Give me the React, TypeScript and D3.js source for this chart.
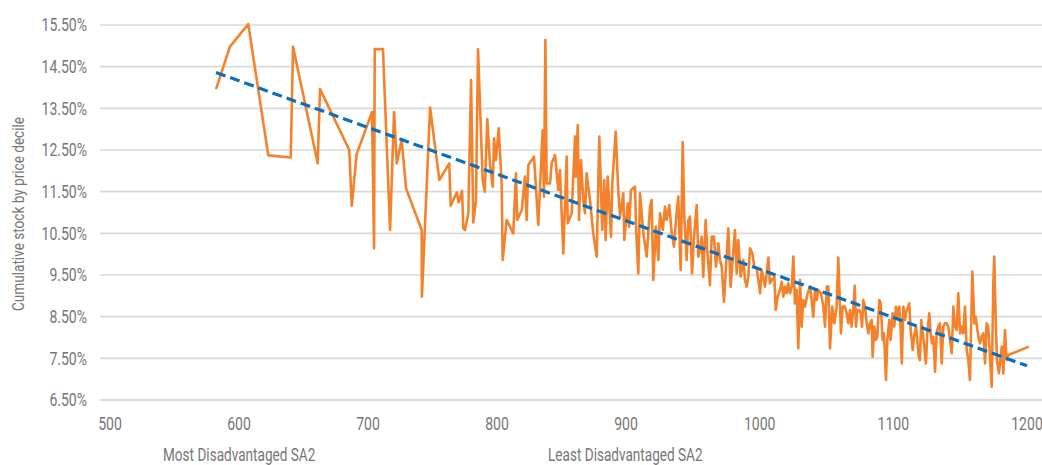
import React from 'react';
import * as d3 from 'd3';

const xTicks = [500, 600, 700, 800, 900, 1000, 1100, 1200];
const yTicks = [6.5, 7.5, 8.5, 9.5, 10.5, 11.5, 12.5, 13.5, 14.5, 15.5];
const yTitle = 'Cumulative stock by price decile';
const leftNote = 'Most Disadvantaged SA2';
const rightNote = 'Least Disadvantaged SA2';

// [SA2 score, cumulative stock share %]
const stockPoints: [number, number][] = [
  [582.2, 13.96], [593.0, 14.98], [607.2, 15.52], [622.7, 12.37], [640.1, 12.32], [641.9, 14.98],
  [661.0, 12.18], [662.8, 13.96], [685.5, 12.50], [687.4, 11.16], [691.2, 12.40], [703.1, 13.41],
  [704.7, 10.14], [705.2, 14.92], [711.6, 14.92], [717.1, 10.58], [720.2, 13.41], [722.3, 12.18],
  [726.1, 12.74], [729.5, 11.58], [741.6, 10.58], [741.8, 8.98], [748.1, 13.52], [755.3, 11.78],
  [763.0, 12.18], [764.1, 11.16], [768.8, 11.48], [770.3, 11.24], [772.9, 11.52], [773.9, 10.62],
  [775.2, 10.58], [777.8, 10.98], [779.9, 14.18], [781.6, 10.76], [783.7, 11.30], [785.3, 14.92],
  [788.9, 11.78], [790.5, 11.50], [792.5, 13.24], [794.6, 12.14], [796.7, 11.62], [797.7, 12.78],
  [799.2, 12.26], [801.3, 13.02], [803.6, 11.70], [804.4, 9.86], [807.5, 10.82], [812.6, 10.50],
  [814.7, 11.94], [815.7, 10.82], [819.2, 11.06], [821.7, 11.86], [823.0, 10.82], [824.3, 12.14],
  [828.7, 12.34], [832.0, 10.70], [835.4, 12.98], [836.4, 11.38], [837.5, 15.14], [838.5, 11.70],
  [841.1, 11.70], [842.4, 12.18], [845.0, 12.38], [847.5, 11.54], [848.8, 12.02], [851.4, 10.02],
  [854.0, 12.34], [854.8, 10.74], [857.9, 10.98], [860.5, 12.82], [861.2, 11.86], [862.6, 13.10],
  [863.6, 10.82], [865.1, 12.26], [866.9, 11.30], [868.2, 10.98], [869.5, 11.94], [872.1, 11.30],
  [874.6, 10.50], [877.3, 9.94], [879.3, 12.82], [881.6, 10.58], [883.2, 11.78], [884.2, 10.34],
  [885.8, 11.86], [888.4, 10.42], [889.4, 11.70], [892.0, 12.94], [894.0, 11.54], [895.4, 10.90],
  [897.9, 11.46], [898.7, 10.34], [901.3, 11.22], [902.3, 10.66], [903.7, 11.54], [906.7, 11.62],
  [907.7, 10.50], [909.2, 9.54], [910.5, 11.46], [913.0, 10.50], [915.5, 9.94], [918.0, 11.14],
  [919.2, 11.30], [920.4, 9.38], [922.4, 10.66], [924.2, 9.86], [925.4, 10.98], [927.5, 10.58],
  [929.2, 11.14], [930.4, 10.82], [932.4, 11.18], [934.2, 10.50], [935.9, 10.18], [937.4, 10.82],
  [939.1, 11.38], [940.9, 9.62], [942.4, 12.69], [943.6, 10.90], [945.4, 9.86], [946.6, 10.82],
  [947.9, 10.90], [949.4, 9.54], [950.9, 10.42], [952.9, 11.18], [954.1, 9.94], [955.4, 10.10],
  [956.6, 10.42], [957.8, 9.46], [959.6, 10.82], [960.8, 10.10], [962.8, 9.26], [964.1, 10.42],
  [965.8, 10.42], [967.3, 9.70], [969.1, 10.26], [970.3, 9.86], [971.6, 9.70], [973.3, 8.86],
  [974.8, 9.70], [976.5, 10.62], [978.3, 9.22], [979.8, 9.86], [981.5, 10.58], [982.8, 9.54],
  [984.0, 10.34], [985.8, 9.46], [987.8, 9.86], [989.0, 9.38], [990.3, 9.22], [991.5, 9.46],
  [992.8, 10.14], [994.5, 10.02], [996.0, 9.70], [997.8, 9.66], [999.0, 9.38], [1000.3, 9.06],
  [1001.5, 9.62], [1002.7, 9.46], [1004.0, 9.22], [1005.3, 9.54], [1006.5, 9.92], [1007.7, 9.30],
  [1009.0, 9.38], [1011.0, 9.46], [1012.0, 8.66], [1013.5, 8.98], [1015.2, 9.14], [1016.5, 9.34],
  [1017.7, 8.98], [1018.9, 9.22], [1020.2, 9.06], [1021.4, 9.30], [1022.7, 9.06], [1024.0, 9.22],
  [1025.2, 9.94], [1026.4, 8.82], [1027.7, 9.14], [1028.9, 7.74], [1030.2, 9.38], [1031.4, 8.26],
  [1032.6, 8.90], [1033.9, 8.74], [1035.9, 9.06], [1037.7, 9.22], [1038.9, 8.90], [1040.1, 8.50],
  [1041.4, 9.14], [1042.7, 8.90], [1043.9, 9.14], [1045.9, 9.06], [1047.6, 8.74], [1048.9, 8.26],
  [1050.2, 9.22], [1051.4, 9.22], [1052.6, 7.74], [1054.3, 8.74], [1055.8, 8.34], [1057.6, 8.74],
  [1058.8, 9.92], [1060.8, 8.10], [1062.1, 8.74], [1063.8, 8.74], [1065.1, 8.58], [1066.3, 8.34],
  [1067.6, 8.66], [1068.8, 8.26], [1070.0, 8.66], [1071.1, 9.24], [1072.1, 8.26], [1073.0, 8.66],
  [1074.5, 8.66], [1075.6, 8.58], [1076.6, 8.26], [1077.5, 8.90], [1078.8, 8.74], [1080.1, 8.34],
  [1081.3, 8.10], [1082.5, 8.34], [1083.8, 8.42], [1084.5, 7.54], [1085.8, 8.26], [1087.0, 7.94],
  [1088.0, 8.02], [1089.5, 8.90], [1090.5, 8.82], [1092.0, 7.94], [1093.0, 8.10], [1094.5, 6.98],
  [1095.5, 7.94], [1097.0, 8.42], [1098.0, 7.94], [1099.5, 8.58], [1100.7, 8.26], [1102.0, 8.74],
  [1103.0, 8.50], [1104.5, 8.74], [1105.5, 8.18], [1106.3, 7.38], [1107.5, 8.74], [1108.7, 8.42],
  [1110.0, 8.66], [1111.2, 8.74], [1111.9, 8.82], [1113.0, 8.18], [1114.5, 7.70], [1115.5, 8.02],
  [1117.0, 8.26], [1117.9, 7.94], [1119.0, 7.54], [1119.9, 7.46], [1120.9, 8.42], [1122.0, 8.10],
  [1122.9, 7.86], [1124.4, 7.38], [1125.4, 8.10], [1126.9, 8.58], [1127.9, 8.10], [1128.9, 7.86],
  [1129.9, 8.02], [1131.2, 7.18], [1132.4, 8.10], [1133.6, 8.26], [1134.9, 8.34], [1136.2, 7.38],
  [1137.4, 8.26], [1138.6, 8.34], [1139.9, 8.34], [1141.1, 8.26], [1142.4, 7.94], [1143.7, 7.62],
  [1144.9, 8.74], [1146.1, 8.26], [1147.4, 8.18], [1148.6, 9.06], [1149.9, 8.10], [1151.1, 8.26],
  [1152.3, 8.10], [1153.6, 8.74], [1154.9, 7.70], [1156.1, 7.46], [1157.3, 6.98], [1158.1, 8.10],
  [1159.1, 9.58], [1160.6, 8.34], [1161.6, 8.50], [1162.6, 8.26], [1163.6, 8.02], [1164.8, 7.86],
  [1166.1, 8.02], [1167.3, 8.10], [1168.6, 7.38], [1169.8, 8.34], [1171.0, 8.26], [1172.3, 7.54],
  [1173.6, 6.82], [1174.8, 9.30], [1175.5, 9.94], [1176.6, 8.42], [1177.5, 7.46], [1179.0, 7.14],
  [1181.1, 7.78], [1182.3, 7.14], [1183.5, 8.18], [1184.8, 7.46], [1186.0, 7.58], [1201.5, 7.78],
];

// Linear trendline end points
const trendX = [582.2, 1200];
const trendY = [14.36, 7.32];

const FONT = "Roboto, 'Noto Sans', sans-serif";
const TEXT = '#767676';
const GRID = '#d9d9d9';

function NarrowText(props: {
  x: number;
  y: number;
  size: number;
  sx: number;
  anchor?: 'start' | 'middle' | 'end';
  rotate?: number;
  dy?: string;
  children: React.ReactNode;
}) {
  const { x, y, size, sx, anchor = 'start', rotate = 0, dy, children } = props;
  return (
    <text
      transform={`translate(${x},${y}) rotate(${rotate}) scale(${sx},1)`}
      textAnchor={anchor}
      fontSize={size}
      fill={TEXT}
      dy={dy}
    >
      {children}
    </text>
  );
}

export default function App() {
  const W = 1042;
  const H = 465;
  const x = d3.scaleLinear().domain([500, 800, 900, 1200]).range([110, 497, 626, 1027]);
  const y = d3.scaleLinear().domain([6.5, 15.5]).range([400, 25]);
  const line = d3
    .line<[number, number]>()
    .x((d) => x(d[0]))
    .y((d) => y(d[1]));
  const trend: [number, number][] = trendX.map((v, i) => [v, trendY[i]]);

  return (
    <svg
      width={W}
      height={H}
      style={{ position: 'absolute', left: 0, top: 0, background: '#fff' }}
      fontFamily={FONT}
    >
      {yTicks.map((t) => (
        <g key={t}>
          <line x1={100} x2={W} y1={y(t)} y2={y(t)} stroke={GRID} strokeWidth={t === 6.5 ? 2 : 1.6} />
          <NarrowText x={87} y={y(t)} size={18} sx={0.78} anchor="end" dy="0.36em">
            {t.toFixed(2) + '%'}
          </NarrowText>
        </g>
      ))}
      {xTicks.map((t) => (
        <NarrowText key={t} x={x(t)} y={429.5} size={18} sx={0.78} anchor="middle">
          {t}
        </NarrowText>
      ))}
      <NarrowText x={24} y={214} size={17} sx={0.8} anchor="middle" rotate={-90}>
        {yTitle}
      </NarrowText>
      <NarrowText x={163} y={460.5} size={18} sx={0.755}>
        {leftNote}
      </NarrowText>
      <NarrowText x={548} y={460.5} size={18} sx={0.755}>
        {rightNote}
      </NarrowText>
      <path d={line(stockPoints) ?? ''} fill="none" stroke="#F4822C" strokeWidth={2.6} strokeLinejoin="round" />
      <path
        d={line(trend) ?? ''}
        fill="none"
        stroke="#0A6FBF"
        strokeWidth={3.2}
        strokeDasharray="10,5"
      />
    </svg>
  );
}
